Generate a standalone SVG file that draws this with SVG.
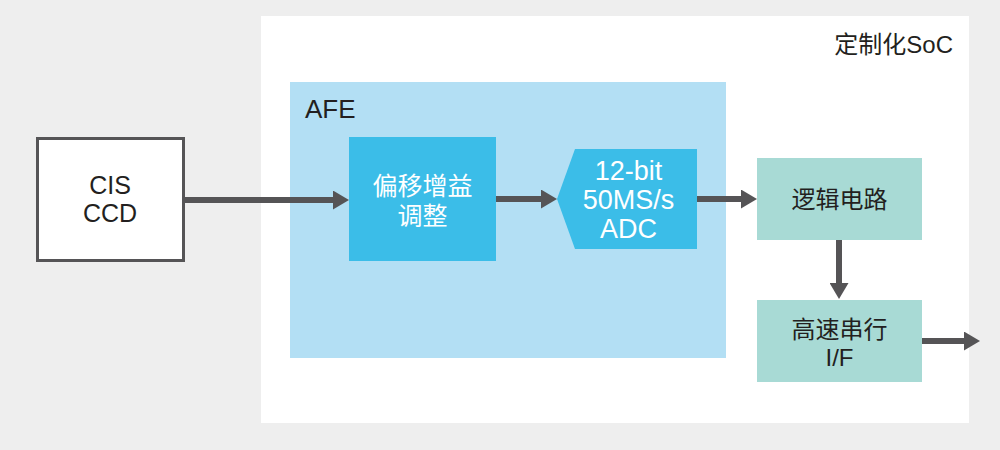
<svg xmlns="http://www.w3.org/2000/svg" width="1000" height="450" viewBox="0 0 1000 450">
<defs>
<style>
.t{font-family:"Liberation Sans","Noto Sans CJK SC",sans-serif;fill:#231f20;text-anchor:middle}
.w{fill:#ffffff}
.c{stroke:#555456;stroke-width:6;fill:none}
</style>
<marker id="ah" markerUnits="userSpaceOnUse" markerWidth="16" markerHeight="19" refX="0" refY="9.5" orient="auto" viewBox="0 0 16 19">
<path d="M0,0 L16,9.5 L0,19 z" fill="#555456"/>
</marker>
</defs>
<rect x="0" y="0" width="1000" height="450" fill="#eeeeee"/>
<g id="soc">
<rect x="261" y="16" width="708" height="407" fill="#ffffff"/>
<text class="t" x="953" y="53" font-size="24" style="text-anchor:end">定制化SoC</text>
</g>
<g id="afe">
<rect x="290" y="82" width="436" height="276" fill="#b3dff4"/>
<text class="t" x="305" y="118" font-size="26" style="text-anchor:start">AFE</text>
</g>
<g id="sensor">
<rect x="37.5" y="138.5" width="146" height="122" fill="#ffffff" stroke="#555456" stroke-width="3"/>
<text class="t" x="110" y="194" font-size="25">CIS</text>
<text class="t" x="110" y="222" font-size="25">CCD</text>
</g>
<g id="offset">
<rect x="349" y="137" width="147" height="124" fill="#3bbde8"/>
<text class="t w" x="422.5" y="195" font-size="25">偏移增益</text>
<text class="t w" x="422.5" y="225" font-size="25">调整</text>
</g>
<g id="adc">
<polygon points="575,149 697,149 697,249 575,249 557,199" fill="#3bbde8"/>
<text class="t w" x="628.5" y="180" font-size="27">12-bit</text>
<text class="t w" x="628.5" y="209" font-size="27">50MS/s</text>
<text class="t w" x="628.5" y="237.5" font-size="27">ADC</text>
</g>
<g id="logic">
<rect x="757" y="158" width="165" height="82" fill="#a8dad5"/>
<text class="t" x="839.5" y="208" font-size="24">逻辑电路</text>
</g>
<g id="serial">
<rect x="757" y="300" width="165" height="82" fill="#a8dad5"/>
<text class="t" x="839.5" y="338" font-size="24">高速串行</text>
<text class="t" x="839.5" y="366" font-size="24">I/F</text>
</g>
<g id="connectors">
<path class="c" d="M185,200 L333,200" marker-end="url(#ah)"/>
<path class="c" d="M496,199 L541,199" marker-end="url(#ah)"/>
<path class="c" d="M697,199 L741,199" marker-end="url(#ah)"/>
<path class="c" d="M839,240 L839,283" marker-end="url(#ah)"/>
<path class="c" d="M922,341 L964,341" marker-end="url(#ah)"/>
</g>
</svg>
